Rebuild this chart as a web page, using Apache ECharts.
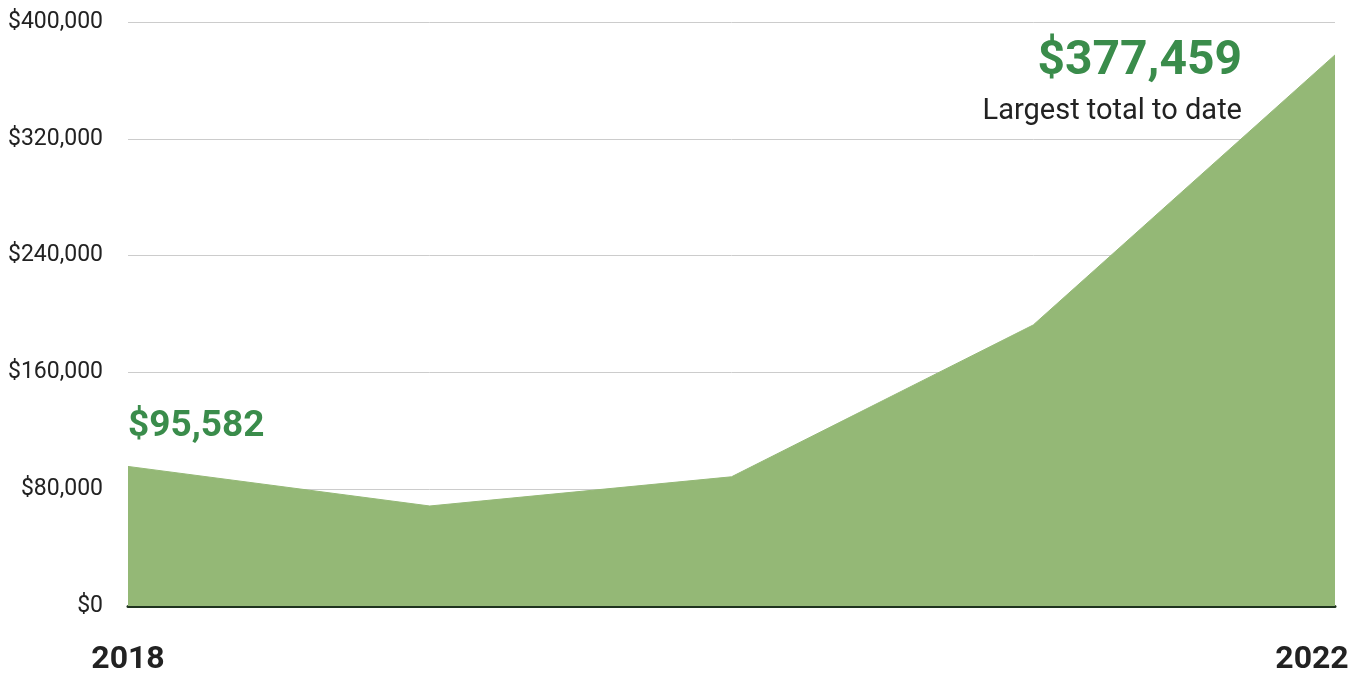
<!DOCTYPE html>
<html><head><meta charset="utf-8">
<script src="https://cdn.jsdelivr.net/npm/echarts@6/dist/echarts.min.js"></script>
<style>html,body{margin:0;padding:0;background:#fff}#c{width:1359px;height:677px}</style>
</head><body><div id="c"></div>
<script>
const years = ['2018', '2019', '2020', '2021', '2022'];
const totals = [95582, 68500, 88500, 192500, 377459];
const yTicks = [0, 80000, 160000, 240000, 320000, 400000];
const firstNote = '$95,582';
const lastNote = '$377,459';
const lastSub = 'Largest total to date';

const FONT = 'Roboto';
const GREEN = '#3a8c4b';
const AREA = '#94b876';

const seriesData = totals.map((v, i) => {
  const d = { value: v };
  if (i === 0) {
    d.label = {
      show: true, position: 'top', align: 'left', verticalAlign: 'bottom', distance: 21,
      formatter: firstNote, fontFamily: FONT, fontWeight: 'bold', fontSize: 37, color: GREEN
    };
  } else if (i === totals.length - 1) {
    d.label = {
      show: true, position: 'left', distance: 93, align: 'right', verticalAlign: 'top',
      offset: [0, -21],
      formatter: '{a|' + lastNote + '}\n{b|' + lastSub + '}',
      rich: {
        a: { fontFamily: FONT, fontWeight: 'bold', fontSize: 48, color: GREEN, lineHeight: 56, align: 'right' },
        b: { fontFamily: FONT, fontSize: 29, color: '#222', lineHeight: 44, align: 'right' }
      }
    };
  }
  return d;
});

const chart = echarts.init(document.getElementById('c'), null, { renderer: 'canvas' });
chart.setOption({
  animation: false,
  grid: { left: 128, right: 24, top: 22, bottom: 71, containLabel: false },
  xAxis: {
    type: 'category', data: years, boundaryGap: false,
    axisLine: { show: true, lineStyle: { color: '#1f331f', width: 3 } },
    axisTick: { show: false },
    splitLine: { show: false },
    axisLabel: {
      interval: (i) => i === 0 || i === years.length - 1,
      margin: 38,
      formatter: (v, i) => i === years.length - 1 ? '{r|' + v + '}' : '{l|' + v + '}',
      rich: {
        l: { fontFamily: FONT, fontWeight: 'bold', fontSize: 32, color: '#222' },
        r: { fontFamily: FONT, fontWeight: 'bold', fontSize: 32, color: '#222', padding: [0, 46, 0, 0] }
      }
    }
  },
  yAxis: {
    type: 'value', min: yTicks[0], max: yTicks[yTicks.length - 1], interval: yTicks[1] - yTicks[0],
    axisLine: { show: false }, axisTick: { show: false },
    splitLine: { lineStyle: { color: '#cccccc', width: 1 } },
    axisLabel: {
      margin: 25, fontFamily: FONT, fontSize: 23, color: '#222',
      formatter: (v) => '$' + v.toLocaleString('en-US')
    }
  },
  series: [{
    type: 'line', data: seriesData, symbol: 'circle', symbolSize: 0, showSymbol: true,
    lineStyle: { color: AREA, width: 1 },
    itemStyle: { color: AREA },
    areaStyle: { color: AREA, opacity: 1 },
    z: 1
  }]
});
</script></body></html>
